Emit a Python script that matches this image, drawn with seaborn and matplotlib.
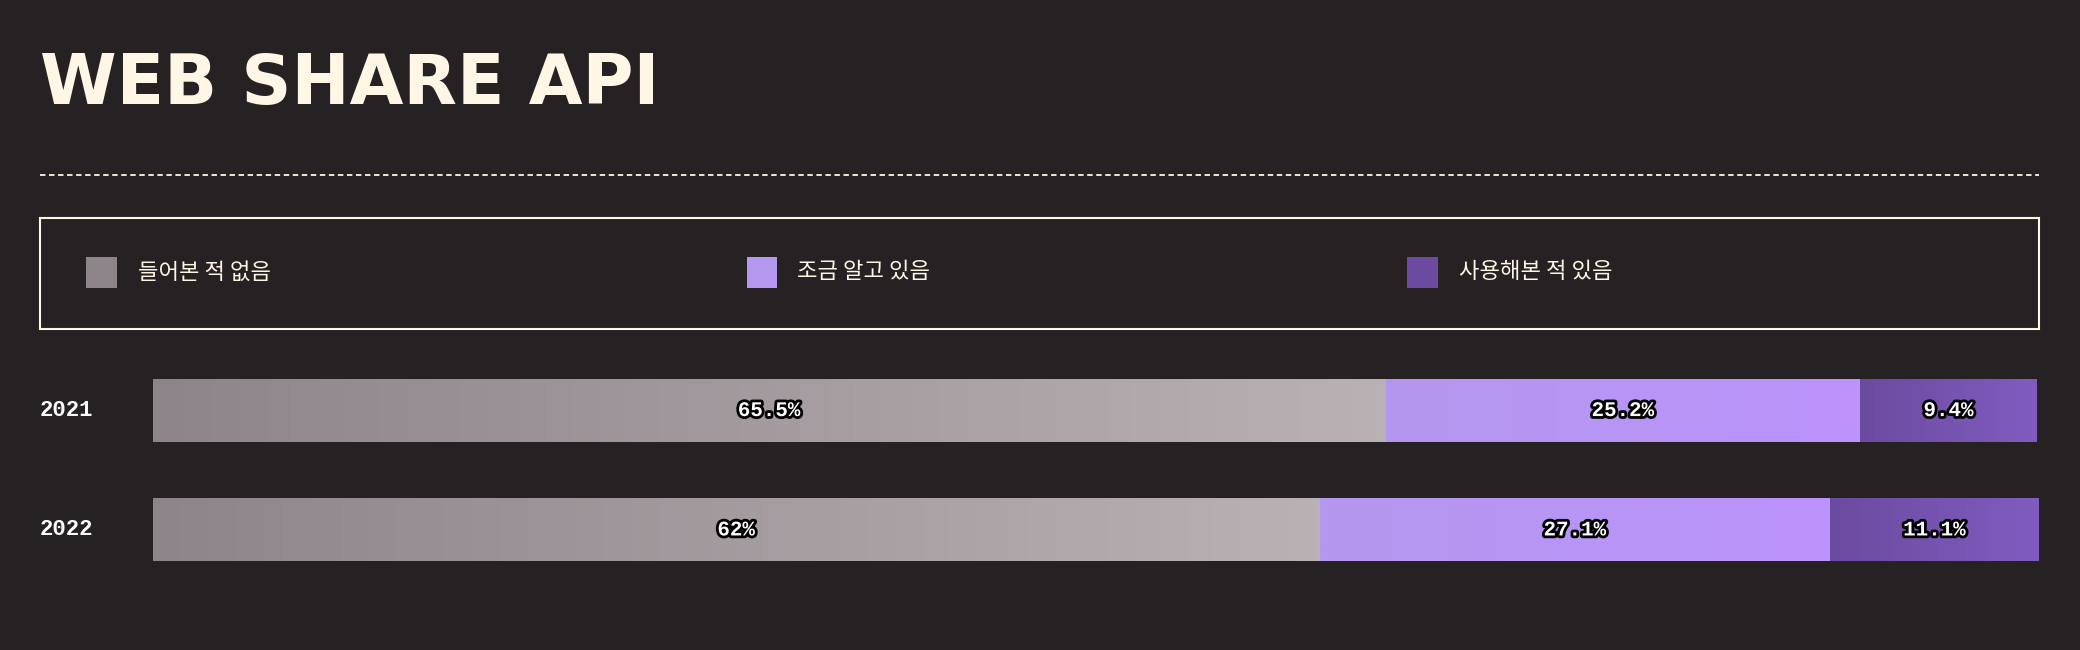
import numpy as np
import pandas as pd
import matplotlib.pyplot as plt
import matplotlib.patheffects as pe
from matplotlib.colors import LinearSegmentedColormap
from matplotlib.patches import Rectangle
import seaborn as sns

years = ["2021", "2022"]
series = ["들어본 적 없음", "조금 알고 있음", "사용해본 적 있음"]
never_heard = [65.5, 62.0]
know_little = [25.2, 27.1]
used_it = [9.4, 11.1]
value_labels = [["65.5%", "25.2%", "9.4%"], ["62%", "27.1%", "11.1%"]]

BG = "#262224"
CREAM = "#fff6e5"
grads = [("#8e858b", "#b9b1b3"), ("#b497ee", "#bc93fc"), ("#6b4b9f", "#805cc0")]
legend_colors = ["#8e858b", "#b497ee", "#6b4b9f"]

W, H = 1568, 490
fig = plt.figure(figsize=(20.8, 6.5), dpi=100, facecolor=BG)

# title
fig.text(30 / W, 1 - 64 / H, "WEB SHARE API", color=CREAM, fontsize=50, fontweight="bold",
         family=["Liberation Sans Narrow", "DejaVu Sans"], va="center", ha="left")

# dashed line
fig.add_artist(plt.Line2D([30 / W, 1537 / W], [1 - 132 / H] * 2, color=CREAM,
                          lw=1.3, ls=(0, (3, 2)), transform=fig.transFigure))

# legend box
fig.add_artist(Rectangle((30 / W, 1 - 248 / H), 1507 / W, 84 / H, fill=False,
                         edgecolor=CREAM, lw=1.5, transform=fig.transFigure))
for name, col, sx, tx in zip(series, legend_colors, [65, 563, 1061], [104, 601, 1100]):
    fig.add_artist(Rectangle((sx / W, 1 - 217 / H), 23 / W, 23 / H, facecolor=col,
                             edgecolor="none", transform=fig.transFigure))
    fig.text(tx / W, 1 - 205 / H, name, color=CREAM, fontsize=16,
             family=["Noto Sans CJK KR", "DejaVu Sans"], va="center", ha="left")

# bars
ax = fig.add_axes([115 / W, 1 - 444.5 / H, 1422 / W, 180 / H])
ax.set_facecolor(BG)
df = pd.DataFrame({"year": years, "a": never_heard, "b": know_little, "c": used_it})
df["ab"] = df["a"] + df["b"]
df["abc"] = df["ab"] + df["c"]
layers = []
for col in ["abc", "ab", "a"]:
    before = len(ax.patches)
    sns.barplot(data=df, y="year", x=col, orient="h", width=47 / 90, ax=ax,
                color="white", edgecolor="none")
    layers.append(ax.patches[before:])
layers = layers[::-1]  # a, ab, abc

ax.set_xlim(0, df["abc"].max())
ax.set_ylim(1.5, -0.5)
for i, bars in enumerate(layers):
    cmap = LinearSegmentedColormap.from_list(f"g{i}", grads[i])
    for bar in bars:
        x0, y0 = bar.get_x(), bar.get_y()
        w, h = bar.get_width(), bar.get_height()
        start = 0 if i == 0 else layers[i - 1][0].get_width() if False else None
        bar.set_visible(False)
        # segment start
        j = list(bars).index(bar)
        left = 0 if i == 0 else layers[i - 1][j].get_width()
        img = ax.imshow(np.linspace(0, 1, 256).reshape(1, -1), cmap=cmap, aspect="auto",
                        extent=(left, x0 + w, y0 + h, y0), zorder=2 + i)

for j, row in df.iterrows():
    segs = [(0, row["a"]), (row["a"], row["ab"]), (row["ab"], row["abc"])]
    for (l, r), lab in zip(segs, value_labels[j]):
        ax.text((l + r) / 2, j, lab, ha="center", va="center", color="white",
                fontsize=15, fontweight="bold", family=["Liberation Mono", "DejaVu Sans Mono"],
                zorder=10, path_effects=[pe.withStroke(linewidth=4, foreground="black")])
    fig.text(30 / W, 1 - (309.5 + 90 * j) / H, years[j], color="white", fontsize=16,
             fontweight="bold", family=["Liberation Mono", "DejaVu Sans Mono"],
             va="center", ha="left")

ax.set_axis_off()
fig.savefig("out.png", dpi=100, facecolor=BG)
